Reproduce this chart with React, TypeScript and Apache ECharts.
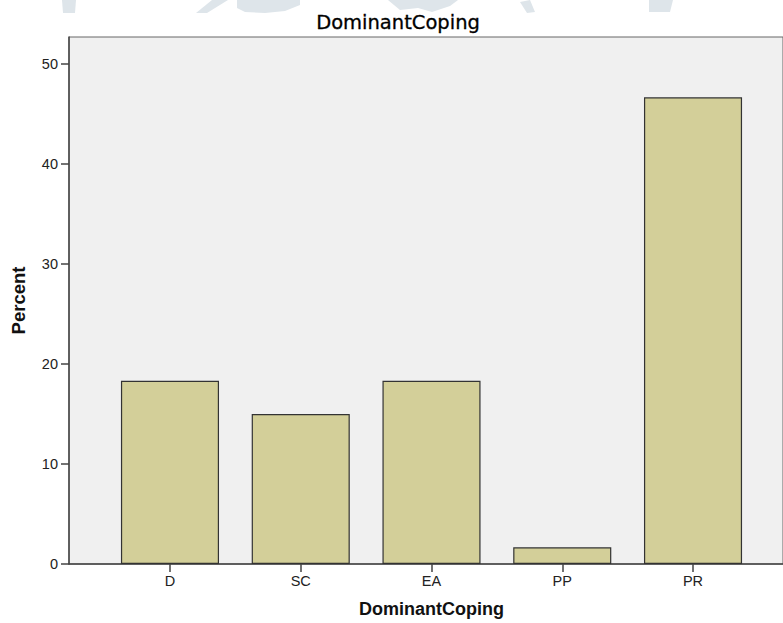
import React, { useEffect, useRef } from "react";
import * as echarts from "echarts";

const categories = ["D", "SC", "EA", "PP", "PR"];
const percents = [18.33, 15.0, 18.33, 1.67, 46.67];
const yTicks = [0, 10, 20, 30, 40, 50];
const yMax = 52.7;

const watermark: number[][][] = [
  [[62, 0], [76, 0], [75, 13], [63, 13]],
  [[212, 0], [228, 0], [207, 13], [196, 13]],
  [[237, 0], [300, 0], [300, 5], [285, 11], [265, 13], [245, 12], [237, 8]],
  [[388, 0], [458, 0], [450, 6], [432, 12], [418, 8], [400, 10]],
  [[520, 2], [530, 0], [535, 12], [527, 13]],
  [[649, 0], [673, 0], [670, 12], [649, 12]],
];

export default function App() {
  const ref = useRef<HTMLDivElement>(null);
  useEffect(() => {
    if (!ref.current) return;
    const chart = echarts.init(ref.current, undefined, { renderer: "svg" });
    const axisColor = "#444";
    chart.setOption({
      animation: false,
      backgroundColor: "#ffffff",
      title: {
        text: "DominantCoping",
        left: 398,
        textAlign: "center",
        top: 12,
        padding: 0,
        z: 10,
        textStyle: {
          fontFamily: "DejaVu Sans",
          fontSize: 19.5,
          fontWeight: "normal",
          color: "#000",
          textBorderColor: "#000",
          textBorderWidth: 0.3,
        },
      },
      graphic: watermark.map((pts) => ({
        type: "polygon",
        z: -10,
        shape: { points: pts },
        style: { fill: "#DEE5EA" },
      })),
      grid: [
        {
          left: 69,
          top: 37,
          right: -1,
          bottom: 59,
          show: true,
          backgroundColor: "#F0F0F0",
          borderColor: "#666",
          borderWidth: 1,
        },
        {
          left: 104.6,
          top: 37,
          right: 24.6,
          bottom: 59,
        },
      ],
      xAxis: [
        {
          gridIndex: 0,
          type: "value",
          min: 0,
          max: 1,
          axisLine: { show: true, lineStyle: { color: axisColor, width: 1.5 } },
          axisTick: { show: false },
          axisLabel: { show: false },
          splitLine: { show: false },
        },
        {
          gridIndex: 1,
          type: "category",
          data: categories,
          name: "DominantCoping",
          nameLocation: "middle",
          nameGap: 36,
          nameTextStyle: {
            fontFamily: "Liberation Sans",
            fontWeight: "bold",
            fontSize: 18,
            color: "#111",
          },
          axisLine: { show: false },
          axisTick: {
            show: true,
            alignWithLabel: true,
            length: 8,
            lineStyle: { color: axisColor, width: 1.5 },
          },
          axisLabel: {
            fontFamily: "Liberation Sans",
            fontSize: 14.5,
            color: "#222",
            margin: 9,
          },
        },
      ],
      yAxis: [
        {
          gridIndex: 0,
          type: "value",
          min: 0,
          max: yMax,
          interval: 10,
          name: "Percent",
          nameLocation: "middle",
          nameGap: 41,
          nameTextStyle: {
            fontFamily: "Liberation Sans",
            fontWeight: "bold",
            fontSize: 18.5,
            color: "#111",
          },
          axisLine: { show: true, lineStyle: { color: axisColor, width: 1.5 } },
          axisTick: {
            show: true,
            length: 8,
            customValues: yTicks,
            lineStyle: { color: axisColor, width: 1.5 },
          },
          axisLabel: {
            customValues: yTicks,
            fontFamily: "Liberation Sans",
            fontSize: 14.5,
            color: "#222",
            margin: 11,
          },
          splitLine: { show: false },
        },
        {
          gridIndex: 1,
          type: "value",
          min: 0,
          max: yMax,
          show: false,
        },
      ],
      series: [
        {
          type: "bar",
          xAxisIndex: 1,
          yAxisIndex: 1,
          data: percents,
          barCategoryGap: "25%",
          itemStyle: {
            color: "#D3CF99",
            borderColor: "#333",
            borderWidth: 1.2,
          },
        },
      ],
    });
    return () => chart.dispose();
  }, []);
  return (
    <div
      ref={ref}
      style={{ position: "absolute", left: 0, top: 0, width: 783, height: 623 }}
    />
  );
}
